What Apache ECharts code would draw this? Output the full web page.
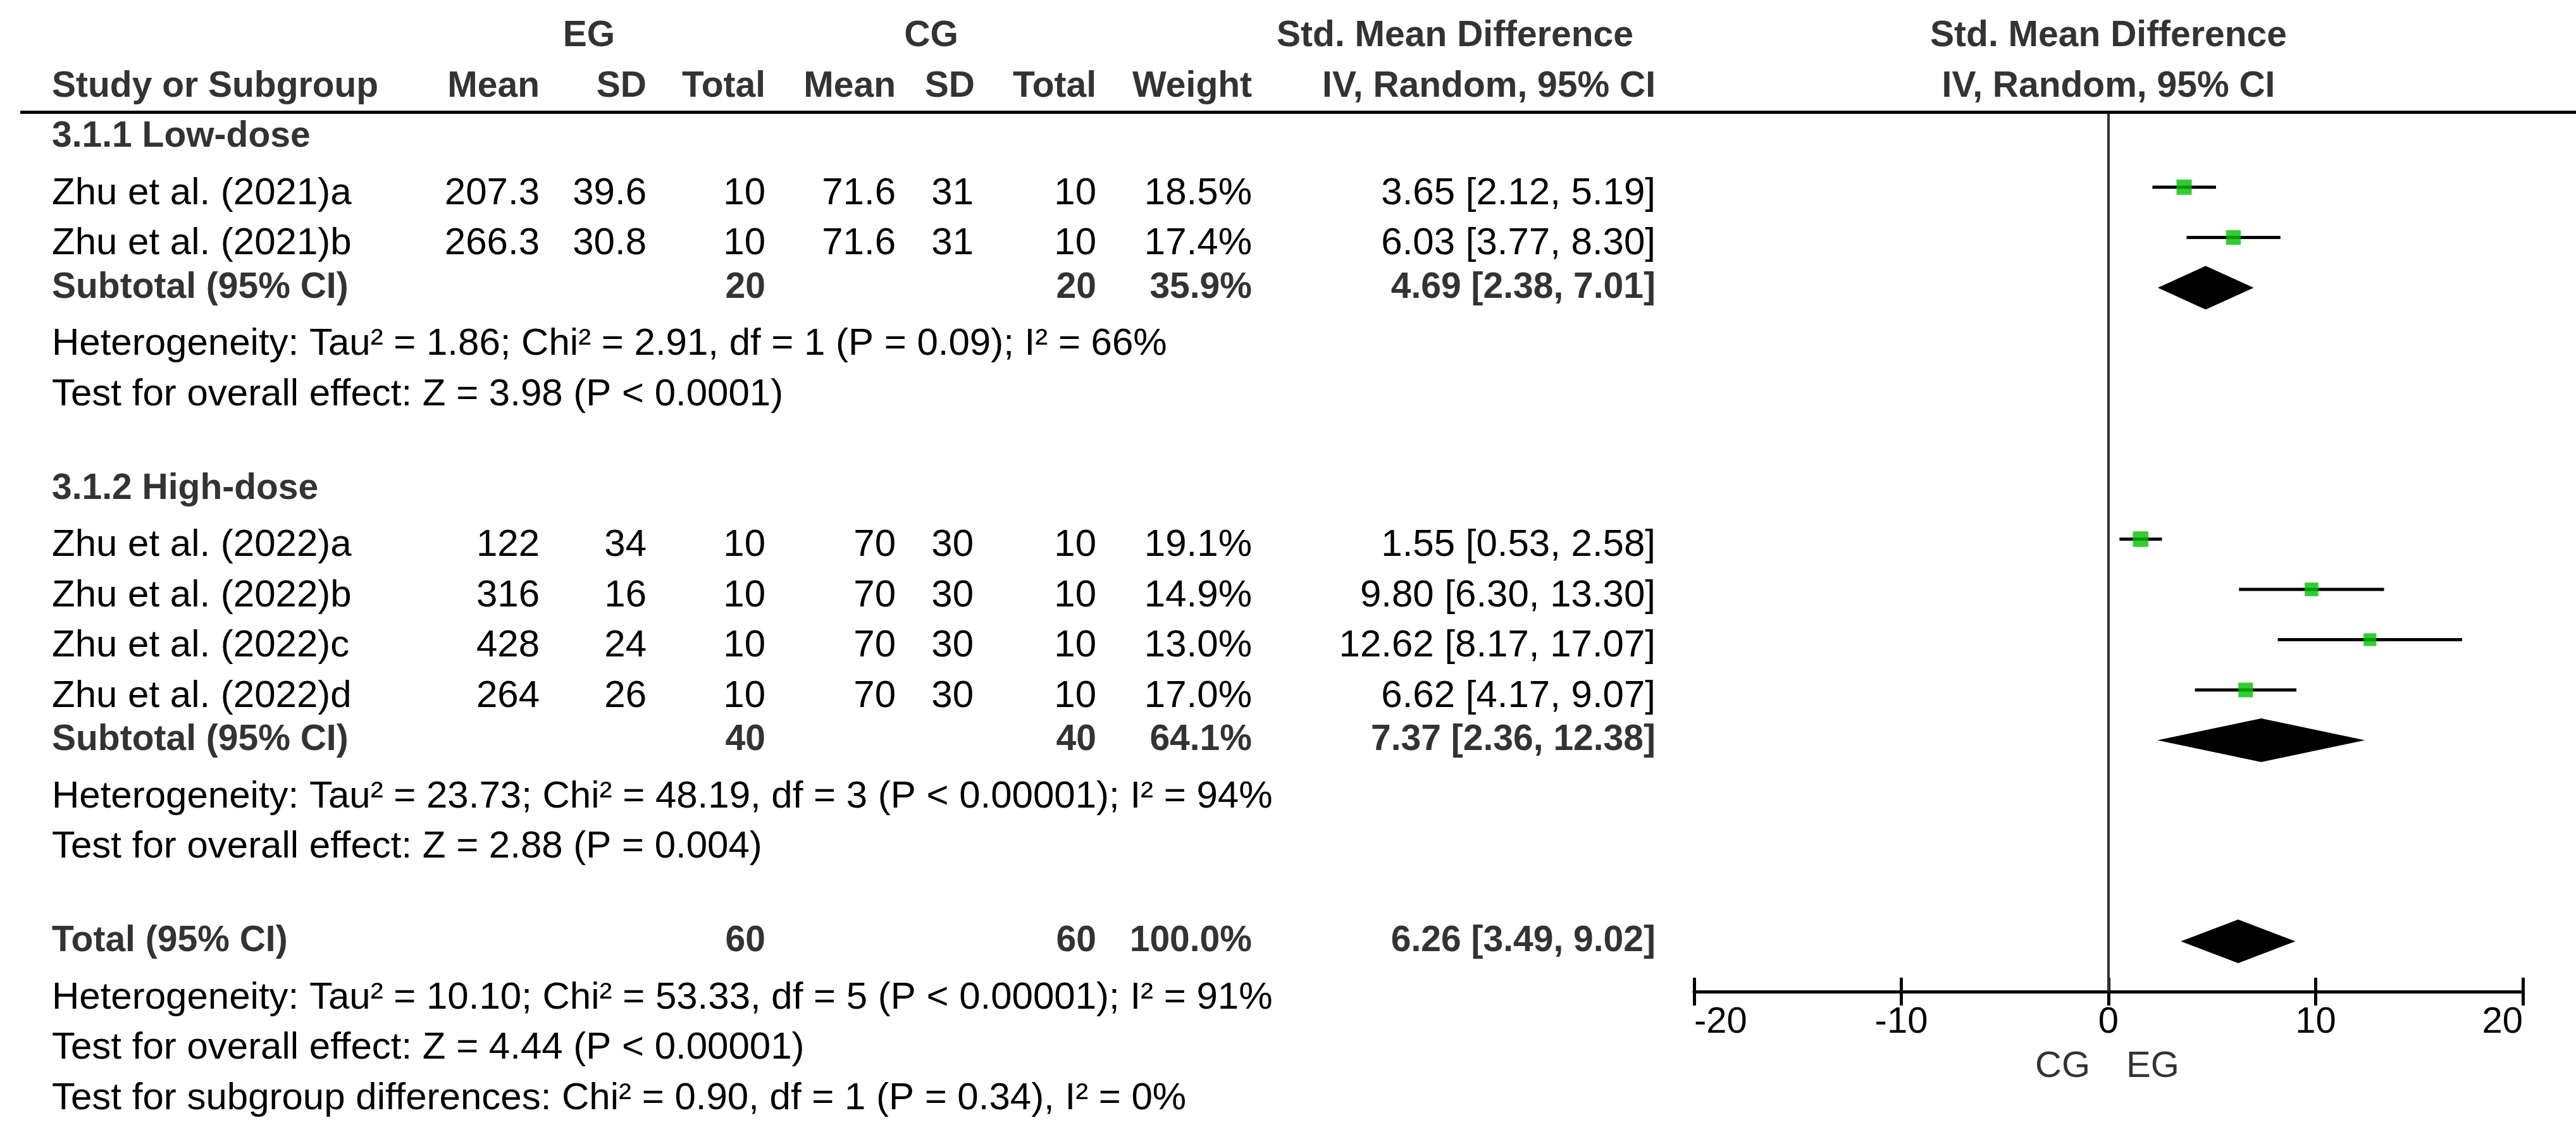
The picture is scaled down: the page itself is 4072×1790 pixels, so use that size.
<!DOCTYPE html>
<html>
<head>
<meta charset="utf-8">
<script src="https://cdn.jsdelivr.net/npm/echarts@6/dist/echarts.min.js"></script>
<style>
html,body{margin:0;padding:0;background:#fff;}
#chart{width:4072px;height:1790px;}
</style>
</head>
<body>
<div id="chart"></div>
<script>
// ---------------- data ----------------
const studyNames = ['Zhu et al. (2021)a','Zhu et al. (2021)b','Zhu et al. (2022)a','Zhu et al. (2022)b','Zhu et al. (2022)c','Zhu et al. (2022)d'];
const egMean = [207.3, 266.3, 122, 316, 428, 264];
const egSD   = [39.6, 30.8, 34, 16, 24, 26];
const egN    = [10, 10, 10, 10, 10, 10];
const cgMean = [71.6, 71.6, 70, 70, 70, 70];
const cgSD   = [31, 31, 30, 30, 30, 30];
const cgN    = [10, 10, 10, 10, 10, 10];
const studyWeight = [18.5, 17.4, 19.1, 14.9, 13.0, 17.0];
const studySmd  = [3.65, 6.03, 1.55, 9.80, 12.62, 6.62];
const studyLow  = [2.12, 3.77, 0.53, 6.30, 8.17, 4.17];
const studyHigh = [5.19, 8.30, 2.58, 13.30, 17.07, 9.07];

const subgroupNames = ['3.1.1 Low-dose', '3.1.2 High-dose'];
const subgroupMembers = [[0, 1], [2, 3, 4, 5]];
const subEgN = [20, 40];
const subCgN = [20, 40];
const subWeight = [35.9, 64.1];
const subSmd  = [4.69, 7.37];
const subLow  = [2.38, 2.36];
const subHigh = [7.01, 12.38];
const subHeterogeneity = [
  'Heterogeneity: Tau\u00B2 = 1.86; Chi\u00B2 = 2.91, df = 1 (P = 0.09); I\u00B2 = 66%',
  'Heterogeneity: Tau\u00B2 = 23.73; Chi\u00B2 = 48.19, df = 3 (P < 0.00001); I\u00B2 = 94%'
];
const subOverall = [
  'Test for overall effect: Z = 3.98 (P < 0.0001)',
  'Test for overall effect: Z = 2.88 (P = 0.004)'
];
const totalLabel = 'Total (95% CI)';
const totalEgN = 60, totalCgN = 60, totalWeight = 100.0;
const totalSmd = 6.26, totalLow = 3.49, totalHigh = 9.02;
const totalNotes = [
  'Heterogeneity: Tau\u00B2 = 10.10; Chi\u00B2 = 53.33, df = 5 (P < 0.00001); I\u00B2 = 91%',
  'Test for overall effect: Z = 4.44 (P < 0.00001)',
  'Test for subgroup differences: Chi\u00B2 = 0.90, df = 1 (P = 0.34), I\u00B2 = 0%'
];
const axisTicks = [-20, -10, 0, 10, 20];
const favourLabels = ['CG', 'EG'];
const headerTop = ['EG', 'CG', 'Std. Mean Difference'];
const headerCols = ['Study or Subgroup', 'Mean', 'SD', 'Total', 'Mean', 'SD', 'Total', 'Weight', 'IV, Random, 95% CI'];

// ---------------- layout (positions / styles) ----------------
const W = 4072, H = 1790;
const ROW0 = 296, PITCH = 79.5;          // pixel of row slot 0 and row pitch
const RULE_SLOT = -1.49, AXIS_SLOT = 16; // header rule and x-axis line rows
const PLOT_LEFT = 2678, PLOT_RIGHT = 3988;
const COL = {name: 82, egMean: 853, egSD: 1022, egN: 1210, cgMean: 1416, cgSD: 1539, cgN: 1733, weight: 1979, ci: 2617};
const HEAD_CENTER = {eg: 931, cg: 1472, smd: 2300};
const FONT = '"Liberation Sans", Arial, Helvetica, sans-serif';
const REG_SIZE = 60, BOLD_SIZE = 57, AXIS_SIZE = 58;
const REG_COLOR = '#000', BOLD_COLOR = '#333';
const REG_OFFSET = 10;                   // regular text sits slightly below marks
const DIAMOND_HALF = 34.5;
const SQUARE_K = 5.6;

const fmt2 = v => v.toFixed(2);
const ciText = (e, l, h) => fmt2(e) + ' [' + fmt2(l) + ', ' + fmt2(h) + ']';
const pct = v => v.toFixed(1) + '%';

// ---------------- build rows ----------------
const rows = [];
const ciData = [];
const squareData = [];
const diamondData = [];
let slot = -1;
subgroupNames.forEach((g, gi) => {
  rows.push({slot, bold: true, cells: [[COL.name, g, 'left']]});
  slot++;
  subgroupMembers[gi].forEach(i => {
    rows.push({slot, bold: false, cells: [
      [COL.name, studyNames[i], 'left'],
      [COL.egMean, String(egMean[i]), 'right'],
      [COL.egSD, String(egSD[i]), 'right'],
      [COL.egN, String(egN[i]), 'right'],
      [COL.cgMean, String(cgMean[i]), 'right'],
      [COL.cgSD, String(cgSD[i]), 'right'],
      [COL.cgN, String(cgN[i]), 'right'],
      [COL.weight, pct(studyWeight[i]), 'right'],
      [COL.ci, ciText(studySmd[i], studyLow[i], studyHigh[i]), 'right']
    ]});
    ciData.push([studyLow[i], studyHigh[i], slot]);
    squareData.push([studySmd[i], slot, studyWeight[i]]);
    slot++;
  });
  rows.push({slot, bold: true, cells: [
    [COL.name, 'Subtotal (95% CI)', 'left'],
    [COL.egN, String(subEgN[gi]), 'right'],
    [COL.cgN, String(subCgN[gi]), 'right'],
    [COL.weight, pct(subWeight[gi]), 'right'],
    [COL.ci, ciText(subSmd[gi], subLow[gi], subHigh[gi]), 'right']
  ]});
  diamondData.push([subSmd[gi], subLow[gi], subHigh[gi], slot]);
  rows.push({slot: slot + 1, bold: false, cells: [[COL.name, subHeterogeneity[gi], 'left']]});
  rows.push({slot: slot + 2, bold: false, cells: [[COL.name, subOverall[gi], 'left']]});
  slot += 4;
});
rows.push({slot, bold: true, cells: [
  [COL.name, totalLabel, 'left'],
  [COL.egN, String(totalEgN), 'right'],
  [COL.cgN, String(totalCgN), 'right'],
  [COL.weight, pct(totalWeight), 'right'],
  [COL.ci, ciText(totalSmd, totalLow, totalHigh), 'right']
]});
diamondData.push([totalSmd, totalLow, totalHigh, slot]);
totalNotes.forEach((t, k) => rows.push({slot: slot + 1 + k, bold: false, cells: [[COL.name, t, 'left']]}));

// ---------------- chart ----------------
const chart = echarts.init(document.getElementById('chart'), null, {renderer: 'canvas', width: W, height: H});
const gridTop = ROW0 + PITCH * RULE_SLOT;
const gridHeight = PITCH * (AXIS_SLOT - RULE_SLOT);

const baseX = {
  type: 'value', gridIndex: 0, position: 'bottom',
  min: axisTicks[0], max: axisTicks[axisTicks.length - 1], interval: axisTicks[1] - axisTicks[0],
  splitLine: {show: false},
  axisLine: {show: true, onZero: false, lineStyle: {color: '#000', width: 5}}
};

chart.setOption({
  animation: false,
  backgroundColor: '#fff',
  grid: [{left: PLOT_LEFT, width: PLOT_RIGHT - PLOT_LEFT, top: gridTop, height: gridHeight, containLabel: false, outerBoundsMode: 'none'}],
  xAxis: [
    Object.assign({}, baseX, {
      axisTick: {show: true, inside: true, length: 22, lineStyle: {color: '#000', width: 5}},
      axisLabel: {show: false}
    }),
    Object.assign({}, baseX, {
      axisTick: {show: true, inside: false, length: 22, lineStyle: {color: '#000', width: 5}},
      axisLabel: {show: true, margin: 20, fontSize: AXIS_SIZE, fontFamily: FONT, color: '#000',
                  alignMinLabel: 'left', alignMaxLabel: 'right'}
    })
  ],
  yAxis: [{type: 'value', gridIndex: 0, inverse: true, min: RULE_SLOT, max: AXIS_SLOT, show: false}],
  series: [
    {
      type: 'custom', name: 'ci', xAxisIndex: 0, yAxisIndex: 0, z: 2, clip: false,
      encode: {x: [0, 1], y: 2},
      data: ciData,
      renderItem: (params, api) => {
        const a = api.coord([api.value(0), api.value(2)]);
        const b = api.coord([api.value(1), api.value(2)]);
        return {type: 'line', shape: {x1: a[0], y1: a[1], x2: b[0], y2: b[1]},
                style: {stroke: '#000', lineWidth: 5}};
      }
    },
    {
      type: 'scatter', name: 'estimate', xAxisIndex: 0, yAxisIndex: 0, z: 3,
      symbol: 'rect', symbolSize: v => SQUARE_K * Math.sqrt(v[2]),
      itemStyle: {color: '#00c000', borderWidth: 0},
      data: squareData,
      markLine: {
        silent: true, symbol: ['none', 'none'], label: {show: false},
        lineStyle: {type: 'solid', color: '#333', width: 4},
        data: [{xAxis: 0}]
      }
    },
    {
      type: 'custom', name: 'pooled', xAxisIndex: 0, yAxisIndex: 0, z: 3, clip: false,
      encode: {x: [0, 1, 2], y: 3},
      data: diamondData,
      renderItem: (params, api) => {
        const e = api.coord([api.value(0), api.value(3)]);
        const l = api.coord([api.value(1), api.value(3)]);
        const h = api.coord([api.value(2), api.value(3)]);
        const y = e[1];
        return {type: 'polygon',
                shape: {points: [[l[0], y], [e[0], y - DIAMOND_HALF], [h[0], y], [e[0], y + DIAMOND_HALF]]},
                style: {fill: '#000'}};
      }
    }
  ]
});

// ---------------- table text placed on the same row scale ----------------
const yPx = s => chart.convertToPixel({yAxisIndex: 0}, s);
const xPx = v => chart.convertToPixel({xAxisIndex: 0}, v);
const plotCenter = (xPx(axisTicks[0]) + xPx(axisTicks[axisTicks.length - 1])) / 2;
const zeroX = xPx(0);

function txt(x, y, text, align, bold, size, color) {
  return {type: 'text', x: x, y: y, silent: true, z: 10,
          style: {text: text, fontSize: size || (bold ? BOLD_SIZE : REG_SIZE), fontWeight: bold ? 'bold' : 'normal',
                  fontFamily: FONT, fill: color || (bold ? BOLD_COLOR : REG_COLOR), align: align, verticalAlign: 'middle'}};
}

const g = [];
// header rule
const ruleY = yPx(RULE_SLOT);
g.push({type: 'rect', silent: true, z: 10, shape: {x: 32, y: ruleY - 2.5, width: W - 32, height: 5}, style: {fill: '#000'}});
// header rows
const h1 = yPx(-3), h2 = yPx(-2);
g.push(txt(HEAD_CENTER.eg, h1, headerTop[0], 'center', true));
g.push(txt(HEAD_CENTER.cg, h1, headerTop[1], 'center', true));
g.push(txt(HEAD_CENTER.smd, h1, headerTop[2], 'center', true));
g.push(txt(plotCenter, h1, headerTop[2], 'center', true));
const headX = [COL.name, COL.egMean, COL.egSD, COL.egN, COL.cgMean, COL.cgSD + 2, COL.cgN, COL.weight, COL.ci];
headerCols.forEach((t, k) => g.push(txt(headX[k], h2, t, k === 0 ? 'left' : 'right', true)));
g.push(txt(plotCenter, h2, headerCols[headerCols.length - 1], 'center', true));
// body rows
rows.forEach(r => {
  const y = yPx(r.slot) + (r.bold ? 0 : REG_OFFSET);
  r.cells.forEach(c => g.push(txt(c[0], y, c[1], c[2], r.bold)));
});
// favour labels under the axis
const fy = yPx(AXIS_SLOT + 1.5);
g.push(txt(zeroX - 29, fy, favourLabels[0], 'right', false, AXIS_SIZE, '#333'));
g.push(txt(zeroX + 28, fy, favourLabels[1], 'left', false, AXIS_SIZE, '#333'));

chart.setOption({graphic: {elements: g}});
</script>
</body>
</html>
